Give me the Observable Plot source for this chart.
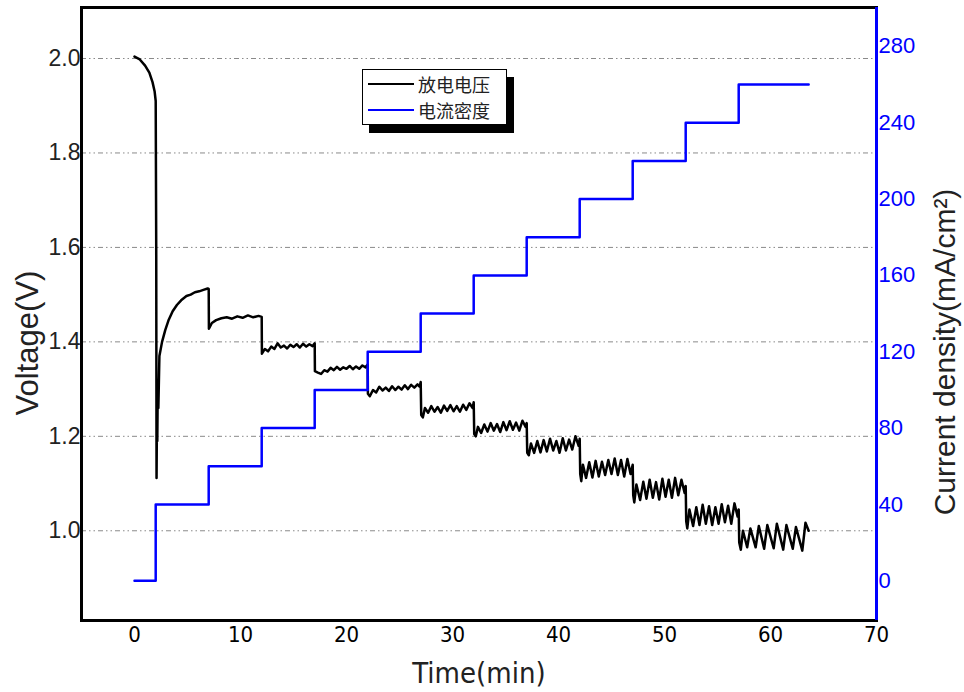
<!DOCTYPE html>
<html>
<head>
<meta charset="utf-8">
<script src="https://cdn.jsdelivr.net/npm/d3@7"></script>
<script src="https://cdn.jsdelivr.net/npm/@observablehq/plot@0.6"></script>
<style>
  html, body { margin: 0; padding: 0; background: #fff; overflow: hidden; }
  #wrap { position: relative; width: 964px; height: 692px; }
  #legend { position: absolute; left: 362px; top: 69px; width: 143px; height: 54px;
    background: #fff; border: 1.5px solid #000; box-shadow: 7px 8px 0 #000;
    font-family: "Noto Sans CJK SC", sans-serif; font-size: 18px; line-height: 26px; color: #222; }
  #legend .row { position: absolute; left: 5px; height: 26px; display: flex; align-items: center; }
  #legend .sw { width: 46px; height: 0; border-top: 2.5px solid; margin-right: 4px; }
</style>
</head>
<body>
<div id="wrap">
  <div id="legend">
    <div class="row" style="top:1px"><span class="sw" style="border-color:#000"></span><span>放电电压</span></div>
    <div class="row" style="top:27px"><span class="sw" style="border-color:#0000ff"></span><span>电流密度</span></div>
  </div>
</div>
<script>
// ---- Data ----
const voltTicks = [1.0, 1.2, 1.4, 1.6, 1.8, 2.0];
const currentTicks = [0, 40, 80, 120, 160, 200, 240, 280];
const timeTicks = [0, 10, 20, 30, 40, 50, 60, 70];

// current density step profile (mA/cm2), step starts (min)
const stepTimes  = [0, 2, 7, 12, 17, 22, 27, 32, 37, 42, 47, 52, 57, 63.6];
const stepValues = [0, 40, 60, 80, 100, 120, 140, 160, 180, 200, 220, 240, 260, 260];

// discharge voltage (V) by segment, [time(min), voltage]
const voltSeg0 = [[0,2.004],[0.5,1.998],[1,1.985],[1.4,1.97],[1.7,1.95],[1.9,1.93],[2.0,1.91],[2.05,1.6],[2.08,1.112],[2.12,1.25],[2.15,1.19],[2.2,1.32],[2.25,1.26],[2.35,1.37]];
const voltSeg1 = [[2.6,1.40],[2.9,1.425],[3.2,1.445],[3.6,1.465],[4.0,1.478],[4.4,1.488],[4.9,1.497],[5.3,1.500],[5.7,1.505],[6.1,1.507],[6.5,1.510],[6.9,1.513],[7.0,1.512]];
const voltSeg2 = [[7.02,1.428],[7.3,1.44],[7.7,1.446],[8.2,1.45],[8.7,1.452],[9.2,1.449],[9.7,1.454],[10.2,1.451],[10.7,1.456],[11.2,1.452],[11.7,1.455],[12.0,1.453]];
const voltSeg3 = [[12.02,1.375],[12.3,1.385],[12.6,1.38],[12.9,1.39],[13.2,1.385],[13.5,1.397],[13.8,1.388],[14.1,1.392],[14.4,1.386],[14.7,1.394],[15.0,1.389],[15.3,1.395],[15.6,1.388],[15.9,1.396],[16.2,1.39],[16.5,1.395],[16.8,1.391],[17.0,1.397]];
const voltSeg4 = [[17.02,1.338],[17.3,1.335],[17.6,1.332],[17.9,1.34],[18.2,1.337],[18.5,1.345],[18.8,1.34],[19.1,1.347],[19.4,1.341],[19.7,1.346],[20.0,1.343],[20.3,1.349],[20.6,1.342],[20.9,1.348],[21.2,1.343],[21.5,1.35],[21.8,1.346],[22.0,1.352]];
const voltSeg5 = [[22.02,1.29],[22.2,1.285],[22.5,1.298],[22.8,1.293],[23.1,1.305],[23.4,1.297],[23.7,1.303],[24.0,1.296],[24.3,1.306],[24.6,1.298],[24.9,1.305],[25.2,1.299],[25.5,1.308],[25.8,1.300],[26.1,1.309],[26.4,1.303],[26.7,1.31],[26.9,1.305],[27.0,1.315]];
const voltSeg6 = [[27.05,1.245],[27.2,1.24],[27.4,1.26],[27.7,1.25],[28.0,1.264],[28.3,1.252],[28.6,1.262],[28.9,1.25],[29.2,1.265],[29.5,1.254],[29.8,1.266],[30.1,1.253],[30.4,1.264],[30.7,1.252],[31.0,1.267],[31.3,1.256],[31.6,1.27],[31.9,1.26],[32.0,1.272]];
const voltSeg7 = [[32.05,1.205],[32.2,1.20],[32.4,1.22],[32.7,1.207],[33.0,1.225],[33.3,1.21],[33.6,1.228],[33.9,1.212],[34.2,1.226],[34.5,1.209],[34.8,1.23],[35.1,1.213],[35.4,1.232],[35.7,1.214],[36.0,1.229],[36.3,1.212],[36.6,1.233],[36.9,1.22],[37.0,1.228]];
const voltSeg8 = [[37.05,1.165],[37.2,1.16],[37.4,1.185],[37.7,1.165],[38.0,1.19],[38.3,1.166],[38.6,1.192],[38.9,1.168],[39.2,1.195],[39.5,1.17],[39.8,1.19],[40.1,1.165],[40.4,1.196],[40.7,1.17],[41.0,1.193],[41.3,1.172],[41.6,1.2],[41.9,1.18],[42.0,1.195]];
const voltSeg9 = [[42.05,1.12],[42.15,1.105],[42.3,1.14],[42.6,1.112],[42.9,1.145],[43.2,1.113],[43.5,1.148],[43.8,1.115],[44.1,1.146],[44.4,1.118],[44.7,1.15],[45.0,1.12],[45.3,1.153],[45.6,1.118],[45.9,1.15],[46.2,1.115],[46.5,1.152],[46.8,1.12],[47.0,1.14]];
const voltSeg10 = [[47.05,1.075],[47.15,1.06],[47.35,1.098],[47.7,1.065],[48.0,1.104],[48.3,1.068],[48.6,1.108],[48.9,1.07],[49.2,1.103],[49.5,1.066],[49.8,1.11],[50.1,1.072],[50.4,1.108],[50.7,1.07],[51.0,1.112],[51.3,1.075],[51.6,1.108],[51.9,1.08],[52.0,1.095]];
const voltSeg11 = [[52.05,1.02],[52.15,1.005],[52.35,1.045],[52.7,1.01],[53.0,1.05],[53.3,1.012],[53.6,1.055],[53.9,1.015],[54.2,1.052],[54.5,1.012],[54.8,1.05],[55.1,1.015],[55.4,1.056],[55.7,1.018],[56.0,1.053],[56.3,1.015],[56.6,1.058],[56.9,1.03],[57.0,1.045]];
const voltSeg12 = [[57.05,0.975],[57.2,0.96],[57.4,1.0],[57.8,0.965],[58.1,1.005],[58.6,0.965],[58.9,1.01],[59.4,0.962],[59.7,1.012],[60.3,0.963],[60.6,1.015],[61.2,0.96],[61.5,1.012],[62.1,0.962],[62.4,1.008],[63.0,0.958],[63.3,1.017],[63.6,1.0]];

// ---- Build ----
const voltage = [voltSeg0, voltSeg1, voltSeg2, voltSeg3, voltSeg4, voltSeg5, voltSeg6, voltSeg7,
  voltSeg8, voltSeg9, voltSeg10, voltSeg11, voltSeg12].flat().map(([t, v]) => ({t, v}));
const current = stepTimes.map((t, i) => ({t, c: stepValues[i]}));

// map current density onto the voltage axis (secondary axis)
const cToV = d3.scaleLinear().domain([0, 280]).range([0.89407, 0.89407 + 0.0040413 * 280]);
const narrow = "DejaVu Sans Condensed, Liberation Sans Narrow, Arial Narrow, sans-serif";

const plot = Plot.plot({
  width: 964,
  height: 692,
  marginLeft: 81,
  marginRight: 88,
  marginTop: 7,
  marginBottom: 72,
  style: {fontFamily: "Liberation Sans, Arial, sans-serif", background: "transparent"},
  x: {domain: [-5, 70]},
  y: {domain: [0.81, 2.108]},
  marks: [
    Plot.ruleY(voltTicks, {stroke: "#8a8a8a", strokeWidth: 1, strokeDasharray: "5,3,1.5,3,1.5,3"}),
    Plot.line(voltage, {x: "t", y: "v", stroke: "#000", strokeWidth: 2.5, curve: "linear"}),
    Plot.line(current, {x: "t", y: d => cToV(d.c), stroke: "#0000ff", strokeWidth: 2.5, curve: "step-after"}),
    Plot.frame({stroke: "#000", strokeWidth: 3}),
    Plot.ruleX([70], {stroke: "#0000ff", strokeWidth: 3}),
    Plot.axisY(voltTicks, {anchor: "left", tickSize: 0, tickPadding: 1, tickFormat: d3.format(".1f"),
      fontSize: 23, fill: "#222", label: null}),
    Plot.axisY(currentTicks.map(c => cToV(c)), {anchor: "right", tickSize: 0, tickPadding: 2,
      tickFormat: d => Math.round(cToV.invert(d)), fontSize: 22, fill: "#0000ff", label: null}),
    Plot.axisX(timeTicks, {anchor: "bottom", tickSize: 0, tickPadding: 6,
      fontSize: 22, fill: "#000", label: null, fontFamily: narrow}),
    Plot.text(["Voltage(V)"], {frameAnchor: "left", textAnchor: "middle", dx: -53, dy: 29, rotate: -90, fontSize: 31, fill: "#222"}),
    Plot.text(["Current density(mA/cm²)"], {frameAnchor: "right", textAnchor: "middle", dx: 69, dy: 38, rotate: -90, fontSize: 30, fill: "#222"}),
    Plot.text(["Time(min)"], {frameAnchor: "bottom", textAnchor: "middle", dy: 62, fontSize: 29, fill: "#222", fontFamily: narrow})
  ]
});
document.getElementById("wrap").insertBefore(plot, document.getElementById("legend"));
plot.style.position = "absolute";
plot.style.left = "0";
plot.style.top = "0";
</script>
</body>
</html>
